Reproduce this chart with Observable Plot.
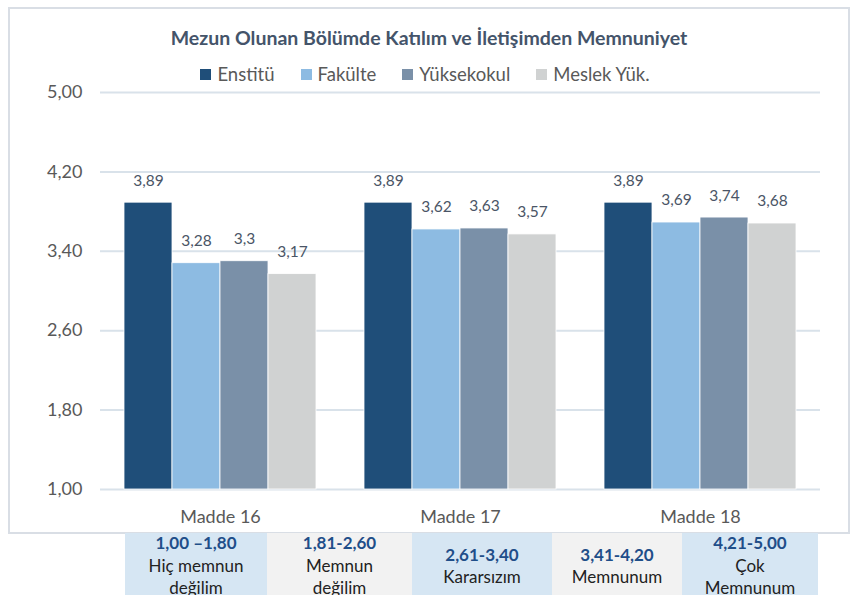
<!DOCTYPE html>
<html><head><meta charset="utf-8">
<script src="https://cdn.jsdelivr.net/npm/d3@7"></script>
<script src="https://cdn.jsdelivr.net/npm/@observablehq/plot@0.6"></script>
<style>
body{margin:0;background:#fff;font-family:Lato, "Open Sans", sans-serif;}
#wrap{position:relative;width:851px;height:595px;overflow:hidden;background:#fff;}
#frame{position:absolute;left:8px;top:7px;width:838px;height:523px;border:2px solid #d9dee5;}
#title{position:absolute;left:8px;width:842px;top:26px;text-align:center;font-weight:bold;font-size:19.5px;color:#44546a;}
#legend{position:absolute;top:63px;left:8px;width:834px;display:flex;justify-content:center;gap:26px;font-size:18.5px;color:#595959;}
#legend .it{display:flex;align-items:center;}
#legend .sw{width:11px;height:11px;margin-right:6px;}
.plot{position:absolute;left:0;top:0;}
#table{position:absolute;left:125px;top:533px;display:flex;}
#table .c{height:66px;display:flex;flex-direction:column;justify-content:center;align-items:center;text-align:center;font-size:17px;line-height:22.5px;color:#222;}
#table .r{font-weight:bold;color:#1f4e89;}
</style></head>
<body><div id="wrap">
<div id="frame"></div>
<div id="title"></div>
<div id="legend"></div>
<div id="table"></div>
</div>
<script>
const titleText = "Mezun Olunan Bölümde Katılım ve İletişimden Memnuniyet";
const items = ["Madde 16", "Madde 17", "Madde 18"];
const series = ["Enstitü", "Fakülte", "Yüksekokul", "Meslek Yük."];
const colors = ["#1f4e79", "#8dbbe2", "#7a90a8", "#d0d2d2"];
const enstitu = [3.89, 3.89, 3.89];
const fakulte = [3.28, 3.62, 3.69];
const yuksekokul = [3.3, 3.63, 3.74];
const meslek = [3.17, 3.57, 3.68];
const yTicks = [1.0, 1.8, 2.6, 3.4, 4.2, 5.0];
const scaleRanges = ["1,00 –1,80", "1,81-2,60", "2,61-3,40", "3,41-4,20", "4,21-5,00"];
const scaleLabels = [["Hiç memnun", "değilim"], ["Memnun", "değilim"], ["Kararsızım"], ["Memnunum"], ["Çok", "Memnunum"]];
const cellWidths = [142, 145, 140, 130, 136];
const cellColors = ["#d6e6f3", "#f2f2f2", "#d6e6f3", "#f2f2f2", "#d6e6f3"];

const valuesBySeries = [enstitu, fakulte, yuksekokul, meslek];
const data = [];
items.forEach((item, i) => series.forEach((s, j) => data.push({item, series: s, value: valuesBySeries[j][i]})));

const fmt = d => d.toFixed(2).replace(".", ",");
const lbl = v => String(v).replace(".", ",");

document.getElementById("title").textContent = titleText;
const leg = document.getElementById("legend");
series.forEach((s, j) => {
  const it = document.createElement("div"); it.className = "it";
  it.innerHTML = `<span class="sw" style="background:${colors[j]}"></span><span>${s}</span>`;
  leg.appendChild(it);
});
const tb = document.getElementById("table");
scaleRanges.forEach((r, k) => {
  const c = document.createElement("div"); c.className = "c";
  c.style.width = cellWidths[k] + "px"; c.style.background = cellColors[k];
  c.innerHTML = `<div class="r">${r}</div>` + scaleLabels[k].map(t => `<div>${t}</div>`).join("");
  tb.appendChild(c);
});

const common = {
  width: 851, height: 540,
  marginLeft: 100, marginRight: 31, marginTop: 92, marginBottom: 51,
  style: {fontFamily: "Lato, 'Open Sans', sans-serif", fontSize: "18px", color: "#595959", background: "transparent"}
};

const bg = Plot.plot({
  ...common,
  x: {domain: items, paddingInner: 0.2, paddingOuter: 0.1, label: null, tickSize: 0, tickPadding: 21},
  y: {domain: [1, 5], ticks: yTicks, tickFormat: fmt, label: null, tickSize: 0, tickPadding: 18},
  marks: [
    Plot.ruleY(yTicks, {stroke: "#d9e2ea", strokeWidth: 2})
  ]
});
bg.classList.add("plot");

const fg = Plot.plot({
  ...common,
  fx: {domain: items, paddingInner: 0.2, paddingOuter: 0.1, axis: null, label: null},
  x: {domain: series, padding: 0, axis: null},
  y: {domain: [1, 5], axis: null},
  color: {domain: series, range: colors},
  marks: [
    Plot.barY(data, {fx: "item", x: "series", y1: 1, y2: "value", fill: "series", stroke: "#ffffff", strokeWidth: 0.8}),
    Plot.text(data, {fx: "item", x: "series", y: "value", text: d => lbl(d.value), dy: -22, fill: "#4a5566", fontSize: 15.5})
  ]
});
fg.classList.add("plot");

const wrap = document.getElementById("wrap");
wrap.appendChild(bg);
wrap.appendChild(fg);
</script>
</body></html>
